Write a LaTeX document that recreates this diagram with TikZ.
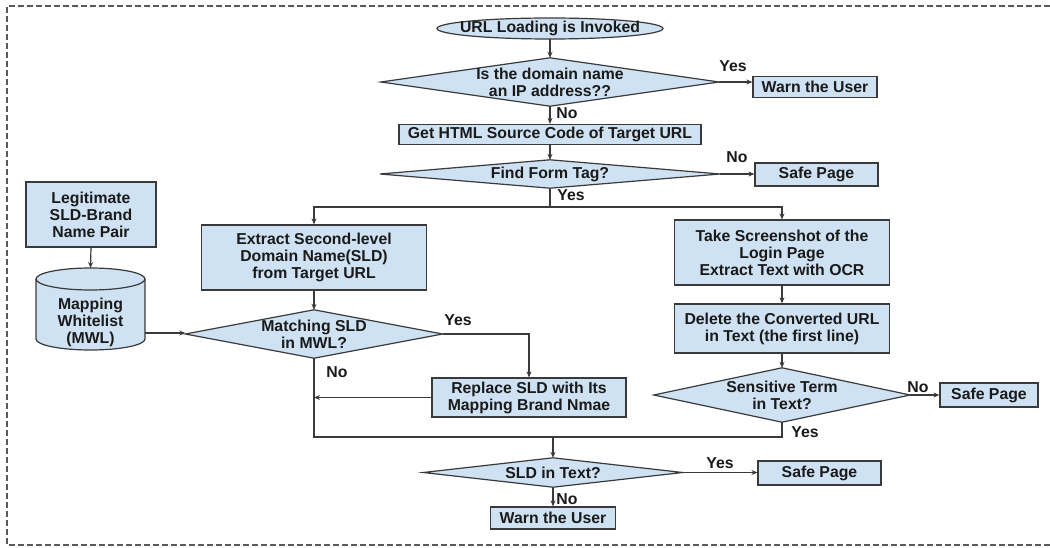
\documentclass[tikz,border=0pt]{standalone}
\usepackage{fontspec}
\setmainfont{Liberation Sans}
\usetikzlibrary{arrows.meta,backgrounds}
\definecolor{boxfill}{HTML}{CFE2F3}
\definecolor{linec}{HTML}{3A3A3A}
\definecolor{txtc}{HTML}{1A1A1A}
\definecolor{framec}{HTML}{5A5A5A}
\newcommand\lab{\fontsize{15.8}{17}\selectfont\bfseries}
\begin{document}
\begin{tikzpicture}[x=1pt,y=-1pt,
  box/.style={draw=linec, fill=boxfill, line width=1.2pt, align=center, inner sep=0pt, font=\lab, text=txtc},
  dtext/.style={align=center, inner sep=0pt, font=\lab, text=txtc},
  dshape/.style={draw=linec, fill=boxfill, line width=1.2pt, line join=miter},
  conn/.style={draw=linec, line width=1.2pt},
  arr/.style={conn, -{Stealth[length=6pt,width=5pt]}},
  lbl/.style={font=\lab, text=txtc, inner sep=0pt},
]
\useasboundingbox (0,0) rectangle (1050,548);
% frame
\draw[framec, line width=1.2pt, dash pattern=on 6pt off 3pt] (1050,6) -- (7,6) -- (7,545) -- (1050,545);

% main column
\node[dtext, minimum width=226, minimum height=21] (start) at (550,28.5) {URL Loading is Invoked};
\node[dtext, minimum width=338, minimum height=48] (d1) at (550,82) {Is the domain name\\an IP address??};
\node[box, minimum width=124, minimum height=21] (warn1) at (815,87) {Warn the User};
\node[box, minimum width=302, minimum height=20] (html) at (550,134.5) {Get HTML Source Code of Target URL};
\node[dtext, minimum width=340, minimum height=28] (d2) at (550,174) {Find Form Tag?};
\node[box, minimum width=123, minimum height=23] (safe1) at (816.5,174.5) {Safe Page};
\coordinate (split) at (550,207);

% left branch
\node[box, minimum width=130, minimum height=65] (leg) at (91,214.5) {Legitimate\\SLD-Brand\\Name Pair};
\node[box, minimum width=225, minimum height=65] (ext) at (314,257.5) {Extract Second-level\\Domain Name(SLD)\\from Target URL};
% cylinder
\fill[boxfill] (36,279) -- (36,339) .. controls (36,345.07) and (60.4,350) .. (90.5,350)
  .. controls (120.6,350) and (145,345.07) .. (145,339) -- (145,279)
  .. controls (145,272.93) and (120.6,268) .. (90.5,268)
  .. controls (60.4,268) and (36,272.93) .. (36,279) -- cycle;
\draw[conn] (36,279) -- (36,339) .. controls (36,345.07) and (60.4,350) .. (90.5,350)
  .. controls (120.6,350) and (145,345.07) .. (145,339) -- (145,279);
\draw[conn] (90.5,279) ellipse [x radius=54.5, y radius=11];
\coordinate (cyltop) at (90.5,268);
\coordinate (cylright) at (145,333);
\node[dtext] (mwl) at (90.5,322) {Mapping\\Whitelist\\(MWL)};

\node[dtext, minimum width=257, minimum height=48] (d3) at (314,334) {Matching SLD\\in MWL?};
\node[box, minimum width=194, minimum height=39] (rep) at (529,397.5) {Replace SLD with Its\\Mapping Brand Nmae};

% right branch
\node[box, minimum width=215, minimum height=65] (take) at (782,252.5) {Take Screenshot of the\\Login Page\\Extract Text with OCR};
\node[box, minimum width=215, minimum height=49] (del) at (782,328.5) {Delete the Converted URL\\in Text (the first line)};
\node[dtext, minimum width=256, minimum height=54] (d4) at (782,395) {Sensitive Term\\in Text?};
\node[box, minimum width=98, minimum height=24] (safe2) at (989,395) {Safe Page};

% bottom
\coordinate (merge) at (553,437);
\node[dtext, minimum width=259, minimum height=29] (d5) at (553,472.5) {SLD in Text?};
\node[box, minimum width=123, minimum height=24] (safe3) at (819.5,473) {Safe Page};
\node[box, minimum width=125, minimum height=22] (warn2) at (553,518) {Warn the User};

% shapes behind text
\begin{scope}[on background layer]
  \foreach \d in {d1,d2,d3,d4,d5}
    \draw[dshape] (\d.west) -- (\d.north) -- (\d.east) -- (\d.south) -- cycle;
  \draw[dshape] (start.center) ellipse [x radius=113, y radius=10.5];
\end{scope}

% connectors
\draw[arr] (start.south) -- (d1.north);
\draw[arr] (d1.east) -- (d1.east -| warn1.west);
\draw[arr] (d1.south) -- (html.north);
\draw[arr] (html.south) -- (d2.north);
\draw[arr] (d2.east) -- (d2.east -| safe1.west);
\draw[conn] (d2.south) -- (split);
\draw[arr] (split) -| (ext.north);
\draw[arr] (split) -| (take.north);
\draw[arr] (leg.south) -- (cyltop);
\draw[arr] (cylright) -- (cylright -| d3.west);
\draw[arr] (ext.south) -- (d3.north);
\draw[arr] (d3.east) -| (rep.north);
\draw[arr] (rep.west) -- (rep.west -| d3.south);
\draw[conn] (d3.south) |- (merge) -| (d4.south);
\draw[arr] (merge) -- (d5.north);
\draw[arr] (take.south) -- (del.north);
\draw[arr] (del.south) -- (d4.north);
\draw[arr] (d4.east) -- (safe2.west);
\draw[arr] (d5.east) -- (d5.east -| safe3.west);
\draw[arr] (d5.south) -- (warn2.north);

% labels
\node[lbl] (l1) at (733,66) {Yes};
\node[lbl] (l2) at (567,113) {No};
\node[lbl] (l3) at (737,157) {No};
\node[lbl] (l4) at (571,195) {Yes};
\node[lbl] (l5) at (458,320) {Yes};
\node[lbl] (l6) at (337,372) {No};
\node[lbl] (l7) at (918,387) {No};
\node[lbl] (l8) at (805,432) {Yes};
\node[lbl] (l9) at (720,463) {Yes};
\node[lbl] (l10) at (567,499) {No};
\end{tikzpicture}
\end{document}
